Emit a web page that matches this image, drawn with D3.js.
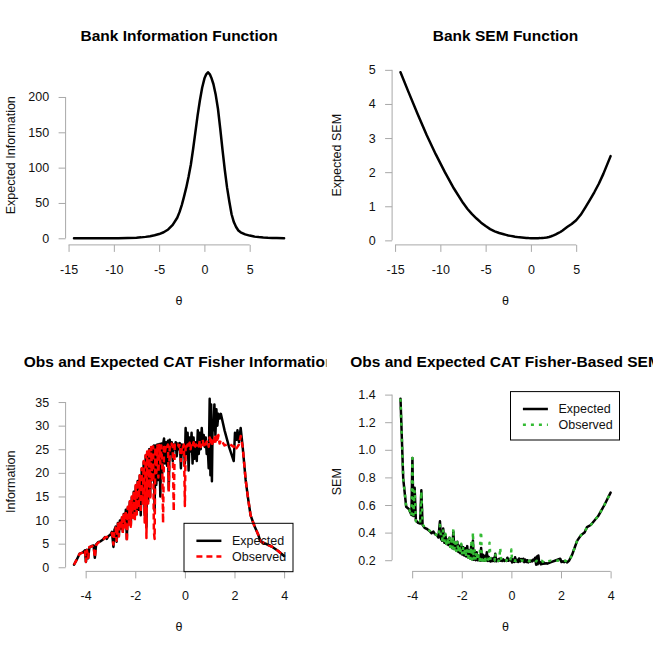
<!DOCTYPE html>
<html>
<head>
<meta charset="utf-8">
<script src="https://cdn.jsdelivr.net/npm/d3@7"></script>
<style>
body { margin: 0; background: #fff; }
svg { display: block; font-family: "Liberation Sans", Arial, sans-serif; }
</style>
</head>
<body>
<svg id="chart" width="653" height="653"></svg>
<script>
// Bank curves (top row)
const bankTheta = [-14.4, -13.5, -12.5, -11.5, -10.5, -9.5, -8.5, -7.5, -7, -6.5, -6, -5.5, -5, -4.5, -4, -3.5, -3,
  -2.75, -2.5, -2.25, -2, -1.75, -1.5, -1.25, -1, -0.75, -0.5, -0.25, 0, 0.2, 0.4, 0.6, 0.8, 1, 1.25, 1.5, 1.75,
  2, 2.25, 2.5, 2.75, 3, 3.25, 3.5, 3.75, 4, 4.5, 5, 5.5, 6, 6.5, 7, 7.5, 8, 8.8];
const bankInfo = [0.04, 0.05, 0.07, 0.09, 0.13, 0.2, 0.4, 0.85, 1.3, 2.0, 3.0, 4.3, 6.0, 8.5, 12.5, 19, 29,
  37, 47, 59, 72, 87, 104, 126, 150, 174, 195, 213, 226, 232, 235, 232, 226, 218, 203, 183, 155,
  125, 97, 72, 52, 34, 23, 16, 11, 8.5, 5.5, 3.8, 2.6, 1.8, 1.2, 0.8, 0.55, 0.35, 0.16];
const bankSem = [4.93, 4.34, 3.70, 3.08, 2.52, 2.00, 1.52, 1.10, 0.92, 0.77, 0.64, 0.52, 0.42, 0.33, 0.265, 0.215, 0.18,
  0.162, 0.145, 0.132, 0.12, 0.108, 0.098, 0.09, 0.083, 0.077, 0.072, 0.067, 0.064, 0.062, 0.062, 0.062, 0.064, 0.066, 0.07, 0.075, 0.085,
  0.1, 0.12, 0.145, 0.175, 0.21, 0.245, 0.29, 0.34, 0.39, 0.48, 0.59, 0.75, 0.96, 1.18, 1.41, 1.66, 1.95, 2.47];

// CAT results (bottom row)
const catTheta = [-4.47, -4.36, -4.24, -4.12, -4.03, -3.99, -3.95, -3.90, -3.85, -3.76, -3.68, -3.63, -3.58, -3.50, -3.40, -3.30,
  -3.22, -3.15, -3.08, -3.00, -2.94, -2.88, -2.84, -2.79, -2.75, -2.70, -2.66, -2.62, -2.58, -2.54, -2.50, -2.46,
  -2.42, -2.38, -2.34, -2.30, -2.26, -2.22, -2.18, -2.14, -2.10, -2.06, -2.02, -1.98, -1.94, -1.90, -1.86, -1.82,
  -1.78, -1.74, -1.70, -1.66, -1.62, -1.58, -1.55, -1.52, -1.48, -1.44, -1.40, -1.36, -1.32, -1.28, -1.25, -1.22,
  -1.19, -1.15, -1.11, -1.07, -1.03, -0.99, -0.95, -0.91, -0.88, -0.84, -0.80, -0.76, -0.72, -0.68, -0.65, -0.61,
  -0.57, -0.53, -0.49, -0.45, -0.41, -0.37, -0.33, -0.28, -0.24, -0.20, -0.16, -0.12, -0.08, -0.04, 0.00, 0.03,
  0.07, 0.11, 0.15, 0.19, 0.23, 0.27, 0.31, 0.35, 0.39, 0.44, 0.48, 0.52, 0.56, 0.60, 0.64, 0.68,
  0.72, 0.76, 0.80, 0.84, 0.88, 0.92, 0.96, 1.00, 1.03, 1.06, 1.09, 1.12, 1.15, 1.19, 1.23, 1.27,
  1.31, 1.35, 1.40, 1.45, 1.60, 1.78, 1.97, 2.02, 2.08, 2.12, 2.18, 2.25, 2.33, 2.45, 2.55, 2.65,
  2.80, 2.95, 3.05, 3.20, 3.50, 3.75, 4.00];
const catInfoExp = [0.53, 1.6, 2.9, 3.1, 3.6, 1.13, 3.7, 1.9, 4.2, 4.5, 4.6, 2.0, 4.8, 5.3, 5.5, 5.9,
  6.4, 6.0, 6.6, 6.9, 7.5, 4.3, 7.9, 8.6, 5.4, 9.4, 6.8, 9.9, 8.2, 10.4, 7.6, 11.3,
  8.8, 12.2, 6.0, 12.6, 9.4, 13.8, 9.0, 14.8, 10.8, 16.0, 10.4, 17.2, 11.6, 18.3, 12.2, 19.4,
  11.0, 20.8, 13.6, 22.3, 11.0, 23.6, 8.5, 24.3, 14.0, 25.0, 15.0, 25.3, 18.5, 25.4, 25.8, 12.0,
  25.8, 17.5, 26.0, 18.5, 26.1, 15.0, 26.2, 20.0, 26.0, 27.3, 22.0, 26.5, 21.5, 26.8, 16.5, 27.0,
  24.0, 26.5, 22.5, 26.0, 25.0, 26.5, 23.5, 26.2, 25.0, 26.3, 21.0, 26.0, 24.0, 25.5, 22.0, 29.5,
  24.0, 28.5, 20.5, 27.5, 24.5, 28.5, 22.0, 27.5, 23.0, 26.5, 22.5, 29.0, 24.0, 28.5, 25.0, 29.5,
  26.0, 28.0, 25.5, 27.5, 24.0, 25.5, 21.0, 35.7, 19.5, 34.5, 18.2, 31.0, 29.0, 34.5, 28.0, 33.5,
  30.0, 32.5, 31.5, 32.5, 29.0, 25.5, 22.5, 28.5, 27.0, 29.0, 26.5, 29.5, 25.5, 18.5, 14.5, 11.0,
  8.8, 7.0, 5.5, 5.1, 4.4, 3.5, 2.4];
const catInfoObs = [0.53, 1.6, 2.9, 3.1, 3.7, 1.13, 3.6, 2.0, 4.3, 4.4, 4.6, 2.05, 4.7, 5.2, 5.5, 5.8,
  6.3, 6.4, 6.5, 7.0, 7.3, 4.8, 7.7, 8.4, 5.6, 9.2, 6.5, 9.8, 8.0, 10.6, 7.2, 11.5,
  8.5, 12.0, 5.4, 12.8, 9.0, 14.0, 8.6, 15.0, 10.5, 16.2, 9.8, 17.4, 11.2, 18.5, 12.5, 19.5,
  11.5, 21.0, 13.2, 22.5, 9.5, 23.8, 6.2, 24.5, 13.5, 25.2, 14.5, 25.5, 18.0, 25.6, 7.5, 6.0,
  25.5, 20.0, 25.8, 19.0, 25.9, 22.0, 25.8, 21.0, 9.4, 25.5, 24.5, 26.0, 25.5, 26.0, 16.0, 25.8,
  25.5, 26.2, 25.5, 11.9, 26.0, 25.6, 25.8, 26.0, 25.5, 26.1, 22.5, 25.8, 25.4, 26.0, 13.0, 26.3,
  25.5, 26.0, 25.2, 26.4, 25.0, 26.2, 25.6, 26.5, 25.3, 26.0, 25.8, 26.3, 25.6, 26.8, 25.5, 26.4,
  27.0, 25.8, 26.5, 26.0, 26.6, 26.8, 25.5, 27.5, 26.0, 27.0, 25.8, 26.8, 26.5, 27.5, 26.0, 28.3,
  26.5, 28.0, 26.2, 27.0, 25.8, 26.2, 25.5, 26.0, 25.2, 25.5, 26.0, 27.8, 25.5, 18.5, 14.5, 11.0,
  8.8, 7.0, 5.5, 5.1, 4.4, 3.5, 2.4];
const catSemExp = [1.37, 0.79, 0.587, 0.568, 0.527, 0.94, 0.52, 0.725, 0.488, 0.471, 0.466, 0.707, 0.456, 0.434, 0.426, 0.412,
  0.395, 0.408, 0.389, 0.381, 0.365, 0.482, 0.356, 0.341, 0.430, 0.326, 0.383, 0.318, 0.349, 0.310, 0.363, 0.297,
  0.337, 0.286, 0.408, 0.282, 0.326, 0.269, 0.333, 0.260, 0.304, 0.250, 0.310, 0.241, 0.294, 0.234, 0.286, 0.227,
  0.302, 0.219, 0.271, 0.212, 0.302, 0.206, 0.343, 0.203, 0.267, 0.200, 0.258, 0.199, 0.232, 0.198, 0.197, 0.289,
  0.197, 0.239, 0.196, 0.232, 0.196, 0.258, 0.195, 0.224, 0.196, 0.191, 0.213, 0.194, 0.216, 0.193, 0.246, 0.192,
  0.204, 0.194, 0.211, 0.196, 0.200, 0.194, 0.206, 0.195, 0.200, 0.195, 0.218, 0.196, 0.204, 0.198, 0.213, 0.184,
  0.204, 0.187, 0.221, 0.191, 0.202, 0.187, 0.213, 0.191, 0.209, 0.194, 0.211, 0.186, 0.204, 0.187, 0.200, 0.184,
  0.196, 0.189, 0.198, 0.191, 0.204, 0.198, 0.218, 0.167, 0.226, 0.170, 0.234, 0.180, 0.186, 0.170, 0.189, 0.173,
  0.183, 0.175, 0.178, 0.175, 0.186, 0.198, 0.211, 0.187, 0.192, 0.186, 0.194, 0.184, 0.198, 0.24, 0.29, 0.34,
  0.38, 0.40, 0.44, 0.455, 0.52, 0.60, 0.69];
const catSemObs = [1.37, 0.79, 0.587, 0.568, 0.520, 0.94, 0.527, 0.707, 0.482, 0.477, 0.466, 0.698, 0.461, 0.439, 0.426, 0.415,
  0.398, 0.395, 0.392, 0.378, 0.370, 0.456, 0.360, 0.345, 0.423, 0.330, 0.392, 0.319, 0.354, 0.307, 0.373, 0.295,
  0.343, 0.289, 0.430, 0.280, 0.333, 0.267, 0.341, 0.258, 0.309, 0.248, 0.319, 0.240, 0.299, 0.232, 0.283, 0.226,
  0.295, 0.218, 0.275, 0.211, 0.324, 0.205, 0.402, 0.202, 0.272, 0.199, 0.263, 0.198, 0.236, 0.198, 0.365, 0.408,
  0.198, 0.224, 0.197, 0.229, 0.196, 0.213, 0.197, 0.218, 0.326, 0.198, 0.202, 0.196, 0.198, 0.196, 0.250, 0.197,
  0.198, 0.195, 0.198, 0.290, 0.196, 0.198, 0.197, 0.196, 0.198, 0.196, 0.211, 0.197, 0.198, 0.196, 0.277, 0.195,
  0.198, 0.196, 0.199, 0.195, 0.200, 0.195, 0.198, 0.194, 0.199, 0.196, 0.197, 0.195, 0.198, 0.193, 0.198, 0.195,
  0.192, 0.197, 0.194, 0.196, 0.194, 0.193, 0.198, 0.191, 0.196, 0.192, 0.197, 0.193, 0.194, 0.191, 0.196, 0.188,
  0.194, 0.189, 0.195, 0.192, 0.197, 0.195, 0.198, 0.196, 0.199, 0.198, 0.196, 0.190, 0.198, 0.24, 0.29, 0.34,
  0.38, 0.40, 0.44, 0.455, 0.52, 0.60, 0.69];

// tick values
const bankThetaTicks = [-15, -10, -5, 0, 5];
const bankInfoTicks = [0, 50, 100, 150, 200];
const bankSemTicks = [0, 1, 2, 3, 4, 5];
const catThetaTicks = [-4, -2, 0, 2, 4];
const catInfoTicks = [0, 5, 10, 15, 20, 25, 30, 35];
const catSemTicks = [0.2, 0.4, 0.6, 0.8, 1.0, 1.2, 1.4];

const svg = d3.select("#chart");
const cell = 653 / 2;
const M = {l: 65.6, r: 34, t: 65.6, b: 81.6};
const pw = cell - M.l - M.r, ph = cell - M.t - M.b;
const axisCol = "#a8a8a8", textCol = "#111";

// R-style axis range: data extent padded by 4%
function pad(vals) {
  const [a, b] = d3.extent(vals);
  const e = (b - a) * 0.04;
  return [a - e, b + e];
}

function drawPanel(col, row, cfg) {
  const id = "clip" + col + row;
  svg.append("clipPath").attr("id", id)
    .append("rect").attr("x", col * cell).attr("y", row * cell).attr("width", cell).attr("height", cell);
  const outer = svg.append("g").attr("clip-path", `url(#${id})`);
  const g = outer.append("g").attr("transform", `translate(${col * cell + M.l},${row * cell + M.t})`);

  const x = d3.scaleLinear().domain(pad(cfg.x)).range([0, pw]);
  const y = d3.scaleLinear().domain(pad(cfg.series.flatMap(s => s.y))).range([ph, 0]);

  // x axis
  const gx = g.append("g").attr("transform", `translate(0,${ph})`)
    .call(d3.axisBottom(x).tickValues(cfg.xTicks).tickSize(7).tickPadding(13).tickFormat(d => String(d)));
  gx.select(".domain").remove();
  gx.append("line").attr("x1", x(cfg.xTicks[0])).attr("x2", x(cfg.xTicks[cfg.xTicks.length - 1]))
    .attr("stroke", axisCol);
  gx.attr("font-size", 12.5).attr("font-family", null);
  gx.selectAll(".tick line").attr("stroke", axisCol);
  gx.selectAll(".tick text").attr("fill", textCol);

  // y axis
  const gy = g.append("g")
    .call(d3.axisLeft(y).tickValues(cfg.yTicks).tickSize(7).tickPadding(9.5).tickFormat(cfg.yFmt));
  gy.select(".domain").remove();
  gy.append("line").attr("y1", y(cfg.yTicks[0])).attr("y2", y(cfg.yTicks[cfg.yTicks.length - 1]))
    .attr("stroke", axisCol);
  gy.attr("font-size", 12.5).attr("font-family", null);
  gy.selectAll(".tick line").attr("stroke", axisCol);
  gy.selectAll(".tick text").attr("fill", textCol);

  // lines
  cfg.series.forEach(s => {
    g.append("path")
      .datum(s.y)
      .attr("fill", "none")
      .attr("stroke", s.color)
      .attr("stroke-width", 2.5)
      .attr("stroke-linejoin", "round")
      .attr("stroke-linecap", s.dash ? "butt" : "round")
      .attr("stroke-dasharray", s.dash || null)
      .attr("d", d3.line().x((d, i) => x(cfg.x[i])).y(d => y(d)));
  });

  // titles
  g.append("text").attr("x", pw / 2).attr("y", -25).attr("text-anchor", "middle")
    .attr("font-size", 15.5).attr("font-weight", "bold").attr("fill", "#000").text(cfg.title);
  g.append("text").attr("x", pw / 2).attr("y", ph + 60).attr("text-anchor", "middle")
    .attr("font-size", 12.5).attr("fill", textCol).text("θ");
  g.append("text").attr("transform", `translate(-51,${ph / 2}) rotate(-90)`).attr("text-anchor", "middle")
    .attr("font-size", 12.5).attr("fill", textCol).text(cfg.ylab);

  // legend (transparent box, drawn over the lines)
  if (cfg.legend) {
    const bw = 109, bh = 48.4;
    const bx = pw - bw + 0.5;
    const by = cfg.legend === "bottomright" ? ph - bh + 0.3 : -0.5;
    const lg = g.append("g").attr("transform", `translate(${bx},${by})`);
    lg.append("rect").attr("width", bw).attr("height", bh).attr("fill", "none").attr("stroke", "#000");
    cfg.series.forEach((s, i) => {
      const ry = 17.5 + i * 15.7;
      lg.append("line").attr("x1", 12.4).attr("x2", 37.4).attr("y1", ry).attr("y2", ry)
        .attr("stroke", s.color).attr("stroke-width", 2.5)
        .attr("stroke-dasharray", s.dash || null);
      lg.append("text").attr("x", 48).attr("y", ry).attr("dy", "0.35em")
        .attr("font-size", 12.5).attr("fill", textCol).text(s.label);
    });
  }
}

drawPanel(0, 0, {
  title: "Bank Information Function", ylab: "Expected Information",
  x: bankTheta, xTicks: bankThetaTicks, yTicks: bankInfoTicks, yFmt: d => String(d),
  series: [{y: bankInfo, color: "#000"}]
});
drawPanel(1, 0, {
  title: "Bank SEM Function", ylab: "Expected SEM",
  x: bankTheta, xTicks: bankThetaTicks, yTicks: bankSemTicks, yFmt: d => String(d),
  series: [{y: bankSem, color: "#000"}]
});
drawPanel(0, 1, {
  title: "Obs and Expected CAT Fisher Information", ylab: "Information",
  x: catTheta, xTicks: catThetaTicks, yTicks: catInfoTicks, yFmt: d => String(d),
  legend: "bottomright",
  series: [
    {y: catInfoExp, color: "#000", label: "Expected"},
    {y: catInfoObs, color: "#ff0000", dash: "6,4", label: "Observed"}
  ]
});
drawPanel(1, 1, {
  title: "Obs and Expected CAT Fisher-Based SEM", ylab: "SEM",
  x: catTheta, xTicks: catThetaTicks, yTicks: catSemTicks, yFmt: d => d.toFixed(1),
  legend: "topright",
  series: [
    {y: catSemExp, color: "#000", label: "Expected"},
    {y: catSemObs, color: "#33bb33", dash: "3,5", label: "Observed"}
  ]
});
</script>
</body>
</html>
